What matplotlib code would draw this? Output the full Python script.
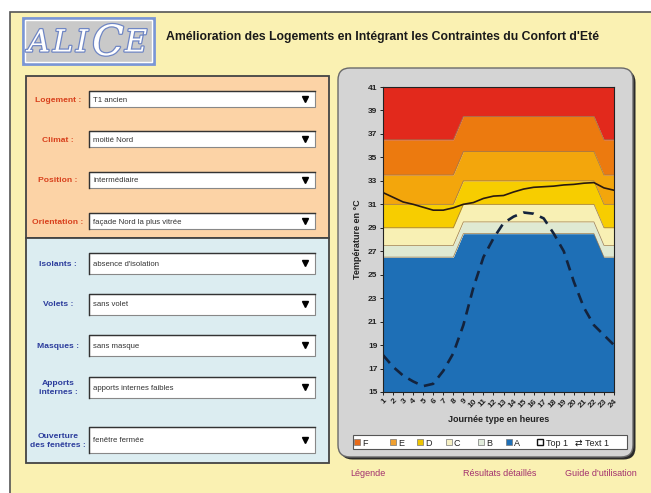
import matplotlib.pyplot as plt
from matplotlib.patches import Rectangle, FancyBboxPatch
import matplotlib.patheffects as pe

# --- donnees du graphique ---
heures = list(range(1, 25))

# limites hautes de chaque bande de confort (degres C)
lim_A = [26.5]*8 + [28.5]*14 + [26.5]*2
lim_B = [27.5]*8 + [29.5]*14 + [27.5]*2
lim_C = [29.0]*8 + [31.0]*14 + [29.0]*2
lim_D = [31.0]*8 + [33.0]*14 + [31.0]*2
lim_E = [33.5]*8 + [35.5]*14 + [33.5]*2
lim_F = [36.5]*8 + [38.5]*14 + [36.5]*2
lim_top = [41]*24

t_interieure = [32.0, 31.6, 31.2, 31.0, 30.75, 30.5, 30.5, 30.7, 31.0, 31.15, 31.5, 31.7,
                31.75, 32.05, 32.3, 32.45, 32.5, 32.55, 32.65, 32.7, 32.8, 32.85, 32.4, 32.2]
t_exterieure = [18.15, 17.15, 16.4, 15.9, 15.5, 15.7, 16.8, 18.3, 20.7, 23.9, 26.5, 28.1,
                29.4, 29.95, 30.3, 30.2, 29.8, 28.5, 27.0, 24.4, 22.2, 20.7, 19.85, 19.0]

bandes_couleurs = ['#1e6fb6', '#dfe9d2', '#f8f0b4', '#f7cd00', '#f3a60c', '#ec7a0f', '#e2291c']

legende_noms = ['F', 'E', 'D', 'C', 'B', 'A']
legende_couleurs = ['#e86a18', '#f0a030', '#eec400', '#f6f0c4', '#e2ecdc', '#1e6fb6']

champs_haut = ['Logement :', 'Climat :', 'Position :', 'Orientation :']
valeurs_haut = ['T1 ancien', 'moitié Nord', 'intermédiaire', 'façade Nord la plus vitrée']
champs_bas = ['Isolants :', 'Volets :', 'Masques :', 'Apports\ninternes :', 'Ouverture\ndes fenêtres :']
valeurs_bas = ['absence d\'isolation', 'sans volet', 'sans masque', 'apports internes faibles', 'fenêtre fermée']

ARIAL = ['Liberation Sans', 'DejaVu Sans']

W, H = 651, 493
fig = plt.figure(figsize=(W/100, H/100), dpi=100)
ui = fig.add_axes([0, 0, 1, 1])
ui.set_xlim(0, W)
ui.set_ylim(H, 0)
ui.axis('off')

# fond de l'application
ui.add_patch(Rectangle((0, 0), W, H, color='white', zorder=0))
ui.add_patch(Rectangle((10, 12), W, H, facecolor='#faf1b2', edgecolor='#555555', lw=1.2, zorder=1))

# logo
ui.add_patch(Rectangle((23, 18), 131, 46, facecolor='#c9c9c9', edgecolor='#7a96d6', lw=2, zorder=2))
ui.add_patch(Rectangle((25, 20), 127, 42, facecolor='none', edgecolor='white', lw=1, zorder=2))
for lettre, x, taille in [('A', 39, 22), ('L', 63, 22), ('I', 82, 22), ('C', 108, 30), ('E', 136, 22)]:
    ui.text(x, 43, lettre, fontsize=taille, family='DejaVu Serif', style='italic',
            color='white', ha='center', va='center', zorder=3,
            path_effects=[pe.withStroke(linewidth=1.8, foreground='#6f86c4')])

ui.text(166, 37, "Amélioration des Logements en Intégrant les Contraintes du Confort d'Eté",
        fontsize=8.8, fontweight='bold', family=ARIAL,
        color='#1a1a1a', ha='left', va='center', zorder=3)

# panneaux de gauche
ui.add_patch(Rectangle((26, 76), 303, 162, facecolor='#fcd3a6', edgecolor='#444444', lw=1.3, zorder=2))
ui.add_patch(Rectangle((26, 238), 303, 225, facecolor='#dcedf1', edgecolor='#444444', lw=1.3, zorder=2))


def liste_deroulante(y, hauteur, texte, label, couleur, grand):
    ui.add_patch(Rectangle((89, y - hauteur/2), 226, hauteur, facecolor='white',
                           edgecolor='#888888', lw=0.8, zorder=3))
    ui.plot([89, 89, 315], [y + hauteur/2, y - hauteur/2, y - hauteur/2], color='#333333', lw=1, zorder=4)
    ui.text(93, y, texte, fontsize=5.6, family=ARIAL, color='#333333', ha='left',
            va='center_baseline', zorder=4)
    ui.plot(305, y, marker='v', color='black', ms=5 if grand else 4, zorder=4)
    ui.text(58, y + 1, label, fontsize=6.1, family=ARIAL, fontweight='bold', color=couleur,
            ha='center', va='center', linespacing=1.4, zorder=4)


for y, label, val in zip([99, 139, 180, 221], champs_haut, valeurs_haut):
    liste_deroulante(y, 16, val, label, '#d8401c', False)
for y, label, val in zip([263, 304, 345, 387, 440], champs_bas, valeurs_bas):
    liste_deroulante(y, 21 if y < 430 else 26, val, label, '#2b3c9c', True)

# cadre du graphique
ui.add_patch(FancyBboxPatch((352.5, 82.5), 271, 365, boxstyle='round,pad=12', facecolor='#2a2a2a',
                            edgecolor='none', zorder=2))
ui.add_patch(FancyBboxPatch((350, 80), 271, 365, boxstyle='round,pad=12', facecolor='#d4d4d4',
                            edgecolor='#6a6a6a', lw=1, zorder=2))

# legende
ui.add_patch(Rectangle((353, 435), 274, 14, facecolor='white', edgecolor='#555555', lw=0.8, zorder=3))
for nom, coul, x in zip(legende_noms, legende_couleurs, [357, 393, 420, 449, 481, 509]):
    ui.add_patch(Rectangle((x - 3, 439), 6, 6, facecolor=coul, edgecolor='#777777', lw=0.5, zorder=4))
    ui.text(x + 5, 442, nom, fontsize=6.5, family=ARIAL, color='#222222', ha='left',
            va='center_baseline', zorder=4)
ui.add_patch(Rectangle((537, 439), 6, 6, facecolor='white', edgecolor='#111111', lw=1, zorder=4))
ui.text(546, 442, 'Top 1', fontsize=6.5, family=ARIAL, color='#222222', ha='left',
        va='center_baseline', zorder=4)
ui.text(578, 442, '\u21c4', fontsize=6.5, color='#111111', ha='center', va='center_baseline', zorder=4)
ui.text(585, 442, 'Text 1', fontsize=6.5, family=ARIAL, color='#222222', ha='left',
        va='center_baseline', zorder=4)

# liens du bas
for texte, x in [('Légende', 350), ('Résultats détaillés', 463), ("Guide d'utilisation", 565)]:
    ui.text(x, 473, texte, fontsize=6.5, family=ARIAL, color='#a2306e', ha='left', va='center', zorder=3)

# --- graphique ---
ax = fig.add_axes([383/W, 1 - 392/H, 231/W, 305/H])
ax.set_zorder(5)
limites = [[15]*24, lim_A, lim_B, lim_C, lim_D, lim_E, lim_F, lim_top]
for i, coul in enumerate(bandes_couleurs):
    ax.fill_between(heures, limites[i], limites[i + 1], color=coul, lw=0)
for lim in limites[1:-1]:
    ax.plot(heures, lim, color='#9a7a50', lw=0.5)
ax.plot(heures, t_interieure, color='#2a1a10', lw=1.2)
ax.plot(heures, t_exterieure, color='#14233c', lw=1.9, dashes=(4, 2.6))

ax.set_xlim(1, 24)
ax.set_ylim(15, 41)
ax.set_yticks(range(15, 42, 2))
ax.set_xticks(heures)
ax.set_xticklabels([str(h) for h in heures], rotation=45, ha='right', rotation_mode='anchor')
ax.tick_params(axis='both', labelsize=6, length=2.5, width=0.7, colors='#222222', pad=1.5)
for lab in ax.get_yticklabels() + ax.get_xticklabels():
    lab.set_fontweight('bold')
    lab.set_family(ARIAL)
for s in ax.spines.values():
    s.set_color('#222222')
    s.set_linewidth(0.8)
ax.set_ylabel('Température en °C', fontsize=6.5, family=ARIAL, fontweight='bold', color='#222222', labelpad=4)
ax.set_xlabel('Journée type en heures', fontsize=6.5, family=ARIAL, fontweight='bold', color='#222222', labelpad=4)

fig.savefig('out.png', dpi=100)
